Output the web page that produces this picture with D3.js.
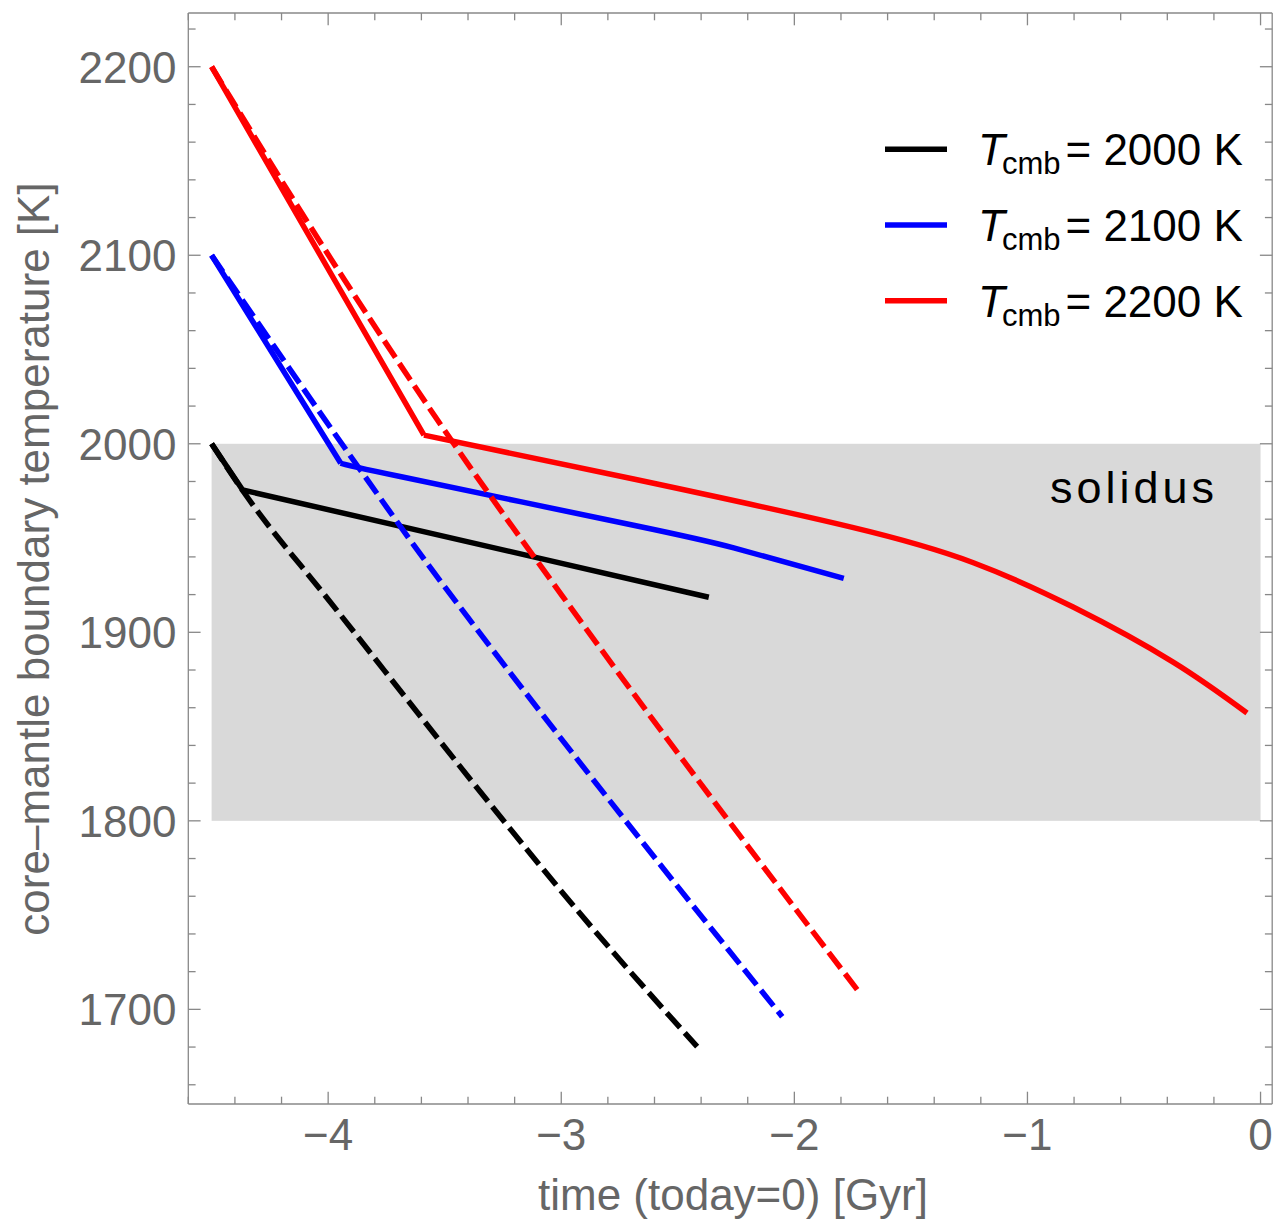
<!DOCTYPE html>
<html lang="en">
<head>
<meta charset="UTF-8">
<script src="https://d3js.org/d3.v7.min.js"></script>
<title>core-mantle boundary temperature</title>
<style>
  body { margin: 0; background: #fff; }
  svg text { font-family: "Liberation Sans", Arial, Helvetica, sans-serif; }
  .tick-label { fill: #666; font-size: 44px; }
  .axis-title { fill: #666; font-size: 44px; }
  .frame line { stroke: #888; stroke-width: 1.3; }
</style>
</head>
<body>
<script>
// tick values
var xTicks = [-4, -3, -2, -1, 0]
var yTicks = [1700, 1800, 1900, 2000, 2100, 2200]

// solidus band
var solidusRange = [1800, 2000]
var solidusTime = [-4.5, 0]

// series: [time Gyr, T K] (solid: 2nd point is the kink)
var solid2000 = [[-4.5, 2000], [-4.367, 1975.5], [-2.367, 1918.6]]
var dashed2000 = [[-4.5, 2000], [-4.36, 1974], [-4.009, 1918.9], [-2.775, 1730], [-2.417, 1680.2]]

var solid2100 = [[-4.5, 2100], [-3.946, 1989.7], [-3.686, 1982.5], [-2.69, 1956.8], [-2.26, 1944.8], [-1.788, 1928.6]]
var dashed2100 = [[-4.5, 2100], [-3.874, 1988.2], [-3.567, 1935.2], [-3.403, 1908.3], [-2.724, 1800], [-2.052, 1696.1]]

var solid2200 = [[-4.5, 2200], [-3.589, 2004.6], [-2.69, 1981.3], [-1.76, 1955.9], [-1.232, 1936.9],
                 [-0.804, 1913.4], [-0.375, 1884.2], [-0.058, 1857.2]]
var dashed2200 = [[-4.5, 2200], [-4.04, 2108.1], [-3.531, 2012.6], [-2.931, 1908.3], [-1.724, 1709.4]]

var legendLabels = ["2000 K", "2100 K", "2200 K"]
var colors = ["#000000", "#0000ff", "#ff0000"]

var width = 1274
var height = 1221
var plot = { left: 188.3, right: 1272.2, top: 13, bottom: 1104 }

var svg = d3.select("body").append("svg")
    .attr("width", width)
    .attr("height", height)

var xScale = d3.scaleLinear()
    .domain([-4.6, 0.05])
    .range([plot.left, plot.right])

var yScale = d3.scaleLinear()
    .domain([1649.8, 2228.5])
    .range([plot.bottom, plot.top])

// solidus band
svg.append("rect")
    .attr("x", xScale(solidusTime[0]))
    .attr("y", yScale(solidusRange[1]))
    .attr("width", xScale(solidusTime[1]) - xScale(solidusTime[0]))
    .attr("height", yScale(solidusRange[0]) - yScale(solidusRange[1]))
    .attr("fill", "#d9d9d9")

svg.append("text")
    .attr("x", 1050)
    .attr("y", 503)
    .attr("font-size", 45)
    .attr("letter-spacing", 4)
    .attr("fill", "#000")
    .text("solidus")

// curves
var line = d3.line()
    .x(function (d) { return xScale(d[0]) })
    .y(function (d) { return yScale(d[1]) })

var smooth = d3.line()
    .x(function (d) { return xScale(d[0]) })
    .y(function (d) { return yScale(d[1]) })
    .curve(d3.curveMonotoneX)

var tail = d3.line()
    .x(function (d) { return xScale(d[0]) })
    .y(function (d) { return yScale(d[1]) })
    .curve(d3.curveNatural)

var series = [
    { solid: solid2000, dashed: dashed2000 },
    { solid: solid2100, dashed: dashed2100 },
    { solid: solid2200, dashed: dashed2200 }
]

series.forEach(function (s, i) {
    svg.append("path")
        .attr("d", smooth(s.dashed))
        .attr("fill", "none")
        .attr("stroke", colors[i])
        .attr("stroke-width", 5.5)
        .attr("stroke-dasharray", "20,7")
    // straight drop to the kink, then the smooth slow-cooling branch
    svg.append("path")
        .attr("d", line(s.solid.slice(0, 2)) + tail(s.solid.slice(1)))
        .attr("fill", "none")
        .attr("stroke", colors[i])
        .attr("stroke-width", 5.5)
        .attr("stroke-linejoin", "round")
})

// frame with inward ticks
var frame = svg.append("g").classed("frame", true)
frame.append("line").attr("x1", plot.left).attr("x2", plot.right).attr("y1", plot.bottom).attr("y2", plot.bottom)
frame.append("line").attr("x1", plot.left).attr("x2", plot.right).attr("y1", plot.top).attr("y2", plot.top)
frame.append("line").attr("x1", plot.left).attr("x2", plot.left).attr("y1", plot.top).attr("y2", plot.bottom)
frame.append("line").attr("x1", plot.right).attr("x2", plot.right).attr("y1", plot.top).attr("y2", plot.bottom)

var xMinor = d3.range(-46, 1, 2).map(function (v) { return v / 10 })
var yMinor = d3.range(1660, 2221, 20)

xMinor.forEach(function (v) {
    var major = xTicks.indexOf(Math.round(v * 10) / 10) >= 0
    var len = major ? 12.3 : 7.3
    var x = xScale(v)
    frame.append("line").attr("x1", x).attr("x2", x).attr("y1", plot.bottom).attr("y2", plot.bottom - len)
    frame.append("line").attr("x1", x).attr("x2", x).attr("y1", plot.top).attr("y2", plot.top + len)
})
yMinor.forEach(function (v) {
    var major = yTicks.indexOf(v) >= 0
    var len = major ? 12.3 : 7.3
    var y = yScale(v)
    frame.append("line").attr("x1", plot.left).attr("x2", plot.left + len).attr("y1", y).attr("y2", y)
    frame.append("line").attr("x1", plot.right).attr("x2", plot.right - len).attr("y1", y).attr("y2", y)
})

// tick labels
svg.selectAll(".xlab").data(xTicks).enter().append("text")
    .attr("class", "tick-label")
    .attr("x", function (d) { return xScale(d) })
    .attr("y", 1150)
    .attr("text-anchor", "middle")
    .text(function (d) { return d < 0 ? "\u2212" + Math.abs(d) : d })

svg.selectAll(".ylab").data(yTicks).enter().append("text")
    .attr("class", "tick-label")
    .attr("x", 176.5)
    .attr("y", function (d) { return yScale(d) + 16 })
    .attr("text-anchor", "end")
    .text(function (d) { return d })

// axis titles
svg.append("text")
    .attr("class", "axis-title")
    .attr("x", 733)
    .attr("y", 1210)
    .attr("text-anchor", "middle")
    .text("time (today=0) [Gyr]")

svg.append("text")
    .attr("class", "axis-title")
    .attr("transform", "translate(49,559) rotate(-90)")
    .attr("text-anchor", "middle")
    .text("core\u2013mantle boundary temperature [K]")

// legend
var legend = svg.append("g")
legendLabels.forEach(function (lab, i) {
    var y = 149.3 + i * 75.7
    legend.append("line")
        .attr("x1", 885).attr("x2", 947)
        .attr("y1", y).attr("y2", y)
        .attr("stroke", colors[i])
        .attr("stroke-width", 5.5)
    var t = legend.append("text")
        .attr("x", 978)
        .attr("y", y + 16)
        .attr("fill", "#000")
        .attr("font-size", 44)
    t.append("tspan").attr("font-style", "italic").text("T")
    t.append("tspan").attr("font-size", 31).attr("dx", -3).attr("dy", 9).text("cmb")
    t.append("tspan").attr("dx", 5).attr("dy", -9).text("= " + lab)
})
</script>
</body>
</html>
